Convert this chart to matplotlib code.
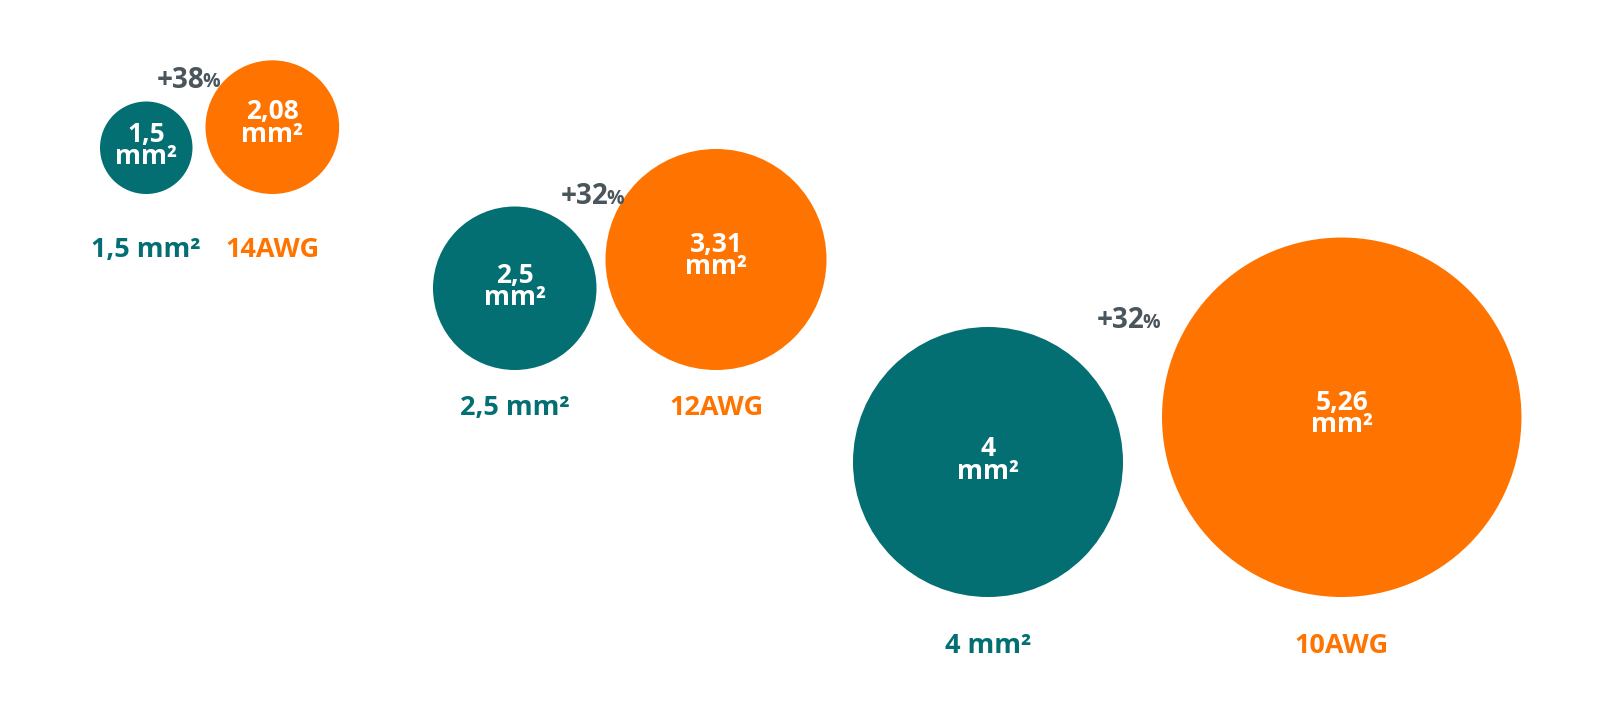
import matplotlib.pyplot as plt
from matplotlib.patches import Circle

# data
metric_sizes = [1.5, 2.5, 4.0]
awg_sizes = [2.08, 3.31, 5.26]
metric_labels = ['1,5 mm²', '2,5 mm²', '4 mm²']
awg_labels = ['14AWG', '12AWG', '10AWG']
inner_metric = ['1,5\nmm²', '2,5\nmm²', '4\nmm²']
inner_awg = ['2,08\nmm²', '3,31\nmm²', '5,26\nmm²']
increase = ['+38', '+32', '+32']

teal = '#036f72'
orange = '#ff7400'
grey = '#4a555c'
font = 'Open Sans'

# layout (pixels)
left = [100, 433, 853]
base = [194, 370, 597]
gap = [13, 9, 39]
label_y = [250, 408, 646]
pct_pos = [(204, 80), (608, 197), (1144, 321)]


def radius(v):
    return 35.5 * v - 7


fig = plt.figure(figsize=(16, 7.01), dpi=100)
ax = fig.add_axes([0, 0, 1, 1])
ax.set_xlim(0, 1600)
ax.set_ylim(701, 0)
ax.set_aspect('equal')
ax.axis('off')

for i in range(3):
    rt = radius(metric_sizes[i])
    ro = radius(awg_sizes[i])
    xt = left[i] + rt
    xo = left[i] + 2 * rt + gap[i] + ro
    ax.add_patch(Circle((xt, base[i] - rt), rt, color=teal, lw=0))
    ax.add_patch(Circle((xo, base[i] - ro), ro, color=orange, lw=0))
    ax.text(xt, base[i] - rt - 2, inner_metric[i], ha='center', va='center', color='white',
            fontsize=19, fontweight='bold', family=font, linespacing=0.78)
    ax.text(xo, base[i] - ro - 4, inner_awg[i], ha='center', va='center', color='white',
            fontsize=19, fontweight='bold', family=font, linespacing=0.78)
    ax.text(xt, label_y[i], metric_labels[i], ha='center', va='center', color=teal,
            fontsize=19.5, fontweight='bold', family=font)
    ax.text(xo, label_y[i], awg_labels[i], ha='center', va='center', color=orange,
            fontsize=19.5, fontweight='bold', family=font)
    px, py = pct_pos[i]
    ax.text(px, py, increase[i], ha='right', va='center', color=grey,
            fontsize=20, fontweight='bold', family=font)
    ax.text(px - 2, py + 2, '%', ha='left', va='center', color=grey,
            fontsize=14, fontweight='bold', family=font)

fig.savefig('out.png', dpi=100, facecolor='white')
